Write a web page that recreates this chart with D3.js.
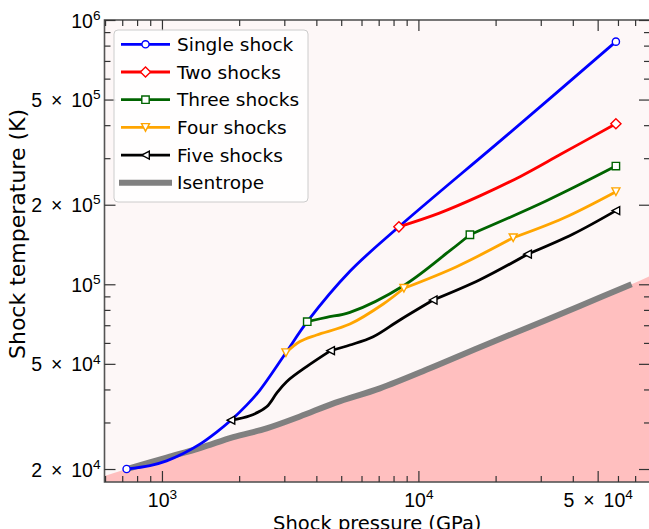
<!DOCTYPE html>
<html>
<head>
<meta charset="utf-8">
<script src="https://cdn.jsdelivr.net/npm/d3@7/dist/d3.min.js"></script>
<style>
body { margin: 0; background: #fff; }
svg { display: block; font-family: "DejaVu Sans", sans-serif; }
</style>
</head>
<body>
<script>
// pressure (GPa), temperature (K) along each compression path
var singleShock = [[728, 2.0e4], [898, 2.06e4], [1043, 2.148e4], [1211, 2.288e4], [1406, 2.483e4], [1634, 2.76e4],
  [1858, 3.06e4], [2139, 3.49e4], [2410, 3.98e4], [3044, 5.51e4], [3686, 7.22e4], [5408, 1.12e5], [8395, 1.65e5],
  [22400, 3.7e5], [58900, 8.28e5]];
var singleShockStates = [[728, 2.0e4], [58900, 8.28e5]];

var twoShocks = [[8395, 1.65e5], [12000, 1.855e5], [17370, 2.16e5], [25000, 2.56e5], [36000, 3.11e5], [58900, 4.05e5]];
var twoShockStates = [[8395, 1.65e5], [58900, 4.05e5]];

var threeShocks = [[3686, 7.22e4], [4385, 7.5e4], [5408, 7.83e4], [8779, 9.9e4], [13270, 1.34e5], [15880, 1.54e5],
  [31600, 2.07e5], [58900, 2.80e5]];
var threeShockStates = [[3686, 7.22e4], [15880, 1.54e5], [58900, 2.80e5]];

var fourShocks = [[3044, 5.51e4], [3452, 6.07e4], [4010, 6.43e4], [5408, 7.07e4], [7293, 8.42e4], [8779, 9.66e4],
  [14090, 1.166e5], [23420, 1.50e5], [36690, 1.777e5], [58900, 2.24e5]];
var fourShockStates = [[3044, 5.51e4], [8779, 9.66e4], [23420, 1.50e5], [58900, 2.24e5]];

var fiveShocks = [[1858, 3.06e4], [2203, 3.18e4], [2560, 3.44e4], [2801, 3.87e4], [3063, 4.28e4], [3665, 4.88e4],
  [4547, 5.61e4], [5408, 5.89e4], [6664, 6.33e4], [8470, 7.33e4], [11420, 8.72e4], [17370, 1.04e5],
  [26650, 1.30e5], [40130, 1.55e5], [58900, 1.90e5]];
var fiveShockStates = [[1858, 3.06e4], [4547, 5.61e4], [11420, 8.72e4], [26650, 1.30e5], [58900, 1.90e5]];

var isentrope = [[728, 2.0e4], [1043, 2.21e4], [1406, 2.40e4], [1897, 2.64e4], [2560, 2.85e4], [3452, 3.16e4],
  [4726, 3.56e4], [7079, 4.04e4], [11090, 4.81e4], [17370, 5.78e4], [27210, 6.91e4], [42620, 8.28e4], [67800, 1.0e5]];
// isentrope carried out to both edges for the shaded region
var isentropeEnds = [[597, 1.88e4], [80000, 1.075e5]];

var seriesNames = ["Single shock", "Two shocks", "Three shocks", "Four shocks", "Five shocks", "Isentrope"];

var xTickValues = [1e3, 1e4, 5e4];
var xTickLabels = ["10^3", "10^4", "5 \u00d7 10^4"];
var yTickValues = [2e4, 5e4, 1e5, 2e5, 5e5, 1e6];
var yTickLabels = ["2 \u00d7 10^4", "5 \u00d7 10^4", "10^5", "2 \u00d7 10^5", "5 \u00d7 10^5", "10^6"];
var xDomain = [597, 80000], yDomain = [17860, 1e6];

var width = 649, height = 529;
var plot = {left: 104.5, right: 650, top: 20, bottom: 482};
var fs = 19.5;

var colors = ["#0000ff", "#ff0000", "#006400", "#ffa500", "#000000", "#808080"];
var shapes = ["circle", "diamond", "square", "tridown", "trileft"];

var x = d3.scaleLog().domain(xDomain).range([plot.left, plot.right]);
var y = d3.scaleLog().domain(yDomain).range([plot.bottom, plot.top]);

var svg = d3.select("body").append("svg")
  .attr("width", width)
  .attr("height", height);

svg.append("defs").append("clipPath").attr("id", "clip")
  .append("rect")
  .attr("x", plot.left).attr("y", plot.top)
  .attr("width", plot.right - plot.left).attr("height", plot.bottom - plot.top);

svg.append("rect")
  .attr("x", plot.left).attr("y", plot.top)
  .attr("width", plot.right - plot.left).attr("height", plot.bottom - plot.top)
  .attr("fill", "#fdf7f7");

var body = svg.append("g").attr("clip-path", "url(#clip)");

var shade = [isentropeEnds[0]].concat(isentrope, [isentropeEnds[1]]);
body.append("path")
  .datum(shade)
  .attr("fill", "#ffbfbf")
  .attr("d", d3.area()
    .x(function(d) { return x(d[0]); })
    .y0(plot.bottom)
    .y1(function(d) { return y(d[1]); })
    .curve(d3.curveMonotoneX));

var line = d3.line()
  .x(function(d) { return x(d[0]); })
  .y(function(d) { return y(d[1]); })
  .curve(d3.curveCatmullRom.alpha(0.5));

body.append("path")
  .datum(isentrope)
  .attr("fill", "none")
  .attr("stroke", colors[5])
  .attr("stroke-width", 6)
  .attr("d", line);

function markerPath(kind) {
  switch (kind) {
    case "circle": return d3.symbol(d3.symbolCircle, Math.PI * 3.6 * 3.6)();
    case "square": return "M-3.7,-3.7H3.7V3.7H-3.7Z";
    case "diamond": return "M0,-5.1L5.1,0L0,5.1L-5.1,0Z";
    case "tridown": return "M-4,-3.8L4,-3.8L0,3.8Z";
    case "trileft": return "M-3.8,0L3.8,-4L3.8,4Z";
  }
}

// each shock state starts a new smooth piece of the path
function pieces(points, marks) {
  var cuts = marks.map(function(m) { return m[0]; });
  var out = [], cur = [];
  points.forEach(function(p) {
    cur.push(p);
    if (cuts.indexOf(p[0]) >= 0 && cur.length > 1) {
      out.push(cur);
      cur = [p];
    }
  });
  if (cur.length > 1) out.push(cur);
  return out;
}

var paths = [singleShock, twoShocks, threeShocks, fourShocks, fiveShocks];
var states = [singleShockStates, twoShockStates, threeShockStates, fourShockStates, fiveShockStates];

paths.forEach(function(p, i) {
  body.append("path")
    .attr("fill", "none")
    .attr("stroke", colors[i])
    .attr("stroke-width", 2.8)
    .attr("stroke-linejoin", "round")
    .attr("d", pieces(p, states[i]).map(function(s) { return line(s); }).join(""));
  body.selectAll(".m" + i)
    .data(states[i])
    .enter().append("path")
    .attr("class", "m" + i)
    .attr("transform", function(d) { return "translate(" + x(d[0]) + "," + y(d[1]) + ")"; })
    .attr("d", markerPath(shapes[i]))
    .attr("fill", "#fff")
    .attr("stroke", colors[i])
    .attr("stroke-width", 1.4);
});

// frame
svg.append("rect")
  .attr("x", plot.left).attr("y", plot.top)
  .attr("width", plot.right - plot.left).attr("height", plot.bottom - plot.top)
  .attr("fill", "none")
  .attr("stroke", "#555")
  .attr("stroke-width", 1.6);

function minorTicks(domain, majors) {
  var out = [];
  for (var e = Math.floor(Math.log10(domain[0])); e <= Math.ceil(Math.log10(domain[1])); e++) {
    for (var m = 1; m < 10; m++) {
      var v = m * Math.pow(10, e);
      if (v >= domain[0] && v <= domain[1] && majors.indexOf(v) < 0) out.push(v);
    }
  }
  return out;
}

function tickAxis(axisFn, scale, values, len, translate) {
  var g = svg.append("g")
    .attr("transform", translate)
    .call(axisFn(scale).tickValues(values).tickSizeInner(-len).tickSizeOuter(0).tickFormat(""));
  g.select(".domain").remove();
  g.selectAll(".tick text").remove();
  g.selectAll(".tick line").attr("stroke", "#333").attr("stroke-width", 1.2);
  return g;
}

function writeLabel(text, label) {
  var parts = label.split("^");
  text.attr("word-spacing", 3.5);
  text.append("tspan").text(parts[0]);
  if (parts[1]) {
    text.append("tspan")
      .attr("font-size", fs * 0.7)
      .attr("dy", -fs * 0.4)
      .text(parts[1]);
  }
}

var xMinor = minorTicks(xDomain, xTickValues);
var yMinor = minorTicks(yDomain, yTickValues);

var xb = tickAxis(d3.axisBottom, x, xTickValues, 11, "translate(0," + plot.bottom + ")");
tickAxis(d3.axisBottom, x, xMinor, 6, "translate(0," + plot.bottom + ")");
tickAxis(d3.axisTop, x, xTickValues, 11, "translate(0," + plot.top + ")");
tickAxis(d3.axisTop, x, xMinor, 6, "translate(0," + plot.top + ")");
var yl = tickAxis(d3.axisLeft, y, yTickValues, 11, "translate(" + plot.left + ",0)");
tickAxis(d3.axisLeft, y, yMinor, 6, "translate(" + plot.left + ",0)");
tickAxis(d3.axisRight, y, yTickValues, 11, "translate(" + plot.right + ",0)");
tickAxis(d3.axisRight, y, yMinor, 6, "translate(" + plot.right + ",0)");

xb.selectAll(".tick").each(function(d, i) {
  var t = d3.select(this).append("text")
    .attr("fill", "#000")
    .attr("font-size", fs)
    .attr("text-anchor", "middle")
    .attr("y", 24.5);
  writeLabel(t, xTickLabels[i]);
});

yl.selectAll(".tick").each(function(d, i) {
  var t = d3.select(this).append("text")
    .attr("fill", "#000")
    .attr("font-size", fs)
    .attr("text-anchor", "end")
    .attr("x", -4)
    .attr("y", 7);
  writeLabel(t, yTickLabels[i]);
});

svg.append("text")
  .attr("x", (plot.left + plot.right) / 2)
  .attr("y", 530)
  .attr("text-anchor", "middle")
  .attr("font-size", fs)
  .text("Shock pressure (GPa)");

svg.append("text")
  .attr("transform", "translate(24.5,234) rotate(-90)")
  .attr("text-anchor", "middle")
  .attr("font-size", 22)
  .text("Shock temperature (K)");

// legend
var lg = svg.append("g").attr("transform", "translate(114,30)");
lg.append("rect")
  .attr("width", 194).attr("height", 172)
  .attr("rx", 4)
  .attr("fill", "#fff").attr("fill-opacity", 0.85)
  .attr("stroke", "#ccc");

seriesNames.forEach(function(name, i) {
  var cy = 14.3 + i * 27.7;
  var row = lg.append("g").attr("transform", "translate(0," + cy + ")");
  row.append("line")
    .attr("x1", i === 5 ? 5 : 7).attr("x2", i === 5 ? 58 : 56)
    .attr("stroke", colors[i])
    .attr("stroke-width", i === 5 ? 6 : 2.8);
  if (i < 5) {
    row.append("path")
      .attr("transform", "translate(31.5,0)")
      .attr("d", markerPath(shapes[i]))
      .attr("fill", "#fff")
      .attr("stroke", colors[i])
      .attr("stroke-width", 1.4);
  }
  row.append("text")
    .attr("x", 63)
    .attr("y", 6.6)
    .attr("font-size", 18.5)
    .text(name);
});
</script>
</body>
</html>
